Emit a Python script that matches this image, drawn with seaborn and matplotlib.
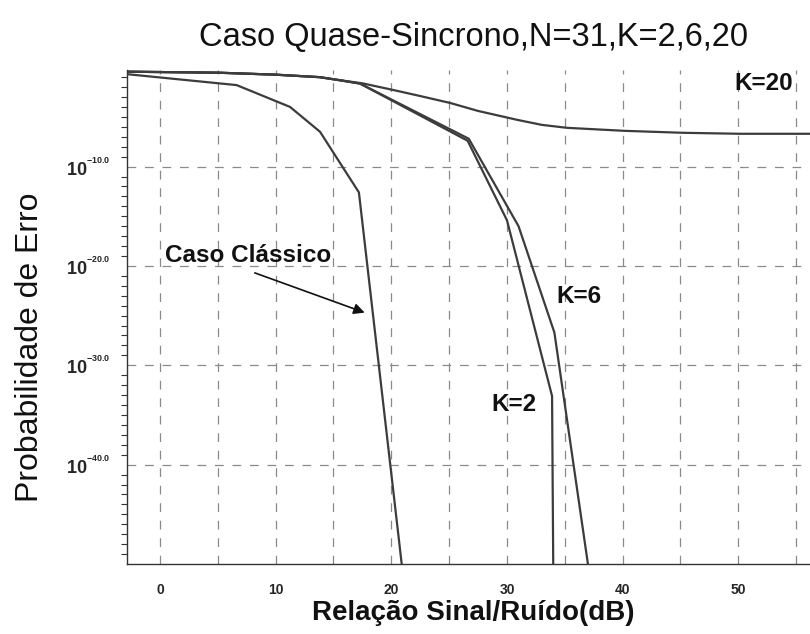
import numpy as np
import pandas as pd
import matplotlib
matplotlib.use("Agg")
import matplotlib.pyplot as plt
from matplotlib.ticker import FixedLocator, FixedFormatter, NullFormatter
import seaborn as sns

# ---- data (SNR in dB, log10 of error probability) ----
snr_classic = [-2.85, 6.63, 11.25, 13.84, 17.2, 20.9]
log_classic = [-0.7, -1.8, -4.0, -6.5, -12.6, -50.0]

snr_k2 = [-2.85, 5.0, 10.0, 13.8, 15.5, 17.3, 26.6, 30.0, 33.9, 34.0]
log_k2 = [-0.45, -0.55, -0.75, -1.0, -1.3, -1.65, -7.4, -15.4, -33.1, -50.0]

snr_k6 = [-2.85, 5.0, 10.0, 13.8, 15.5, 17.3, 26.7, 31.0, 34.1, 37.0]
log_k6 = [-0.45, -0.55, -0.75, -1.0, -1.3, -1.65, -7.2, -16.0, -26.7, -50.0]

snr_k20 = [-2.85, 5.0, 10.0, 13.8, 15.5, 17.5, 20.2, 22.5, 25.1, 27.5, 30.9,
           33.0, 35.2, 40.1, 45.2, 50.2, 56.2]
log_k20 = [-0.45, -0.55, -0.75, -1.0, -1.3, -1.62, -2.3, -2.9, -3.6, -4.4, -5.3,
           -5.8, -6.1, -6.4, -6.6, -6.7, -6.7]

x_ticks = [0, 10, 20, 30, 40, 50]
x_tick_labels = ["0", "10", "20", "30", "40", "50"]
y_major_exp = [-40, -30, -20, -10]
y_tick_labels = [r"$\mathbf{10}^{{}^{\mathbf{-40.0}}}$",
                 r"$\mathbf{10}^{{}^{\mathbf{-30.0}}}$",
                 r"$\mathbf{10}^{{}^{\mathbf{-20.0}}}$",
                 r"$\mathbf{10}^{{}^{\mathbf{-10.0}}}$"]

title = "Caso Quase-Sincrono,N=31,K=2,6,20"
xlabel = "Relação Sinal/Ruído(dB)"
ylabel = "Probabilidade de Erro"

# ---- build long table ----
frames = []
for name, xs, ls in [("classico", snr_classic, log_classic),
                     ("K=2", snr_k2, log_k2),
                     ("K=6", snr_k6, log_k6),
                     ("K=20", snr_k20, log_k20)]:
    frames.append(pd.DataFrame({"snr": xs,
                                "pe": [10.0 ** v for v in ls],
                                "serie": name,
                                "ordem": range(len(xs))}))
df = pd.concat(frames, ignore_index=True)

sns.set_style("white")
plt.rcParams["font.family"] = ["Liberation Sans", "DejaVu Sans"]
plt.rcParams["mathtext.fontset"] = "custom"
plt.rcParams["mathtext.rm"] = "Liberation Sans"
plt.rcParams["mathtext.bf"] = "Liberation Sans:bold"
plt.rcParams["mathtext.it"] = "Liberation Sans:italic"

fig = plt.figure(figsize=(8.10, 6.34), dpi=100)
ax = fig.add_axes([127 / 810, 70 / 634, (810 - 127) / 810, (564 - 70) / 634])

line_color = "#3c3c3c"
sns.lineplot(data=df, x="snr", y="pe", hue="serie", units="serie",
             estimator=None, sort=False, legend=False,
             palette={"classico": line_color, "K=2": line_color,
                      "K=6": line_color, "K=20": line_color},
             linewidth=1.6, ax=ax)

ax.set_yscale("log")
ax.set_xlim(-2.85, 56.2)
ax.set_ylim(1e-50, 10 ** -0.28)

# grid
grid_kw = dict(color="#8a8a8a", linewidth=0.9, linestyle=(0, (7, 7)), zorder=0)
for gx in np.arange(0, 60, 5):
    ax.axvline(gx, **grid_kw)
for ge in y_major_exp:
    ax.axhline(10.0 ** ge, **grid_kw)

# ticks
ax.xaxis.set_major_locator(FixedLocator(list(np.arange(0, 60, 5))))
ax.xaxis.set_major_formatter(FixedFormatter(
    [x_tick_labels[x_ticks.index(t)] if t in x_ticks else "" for t in range(0, 60, 5)]))
ax.yaxis.set_major_locator(FixedLocator([10.0 ** e for e in y_major_exp]))
ax.yaxis.set_major_formatter(FixedFormatter(y_tick_labels))
ax.yaxis.set_minor_locator(FixedLocator([10.0 ** -k for k in range(1, 50) if k % 10 != 0]))
ax.yaxis.set_minor_formatter(NullFormatter())
ax.tick_params(axis="x", which="major", direction="inout", length=9, width=1,
               color="#333333", labelsize=10, pad=9)
ax.tick_params(axis="y", which="major", direction="inout", length=10, width=1,
               color="#333333", labelsize=13, pad=7)
ax.tick_params(axis="y", which="minor", direction="out", length=4, width=0.8,
               color="#333333", left=True)
for lab in ax.get_xticklabels():
    lab.set_fontweight("bold")

for s in ["top", "right"]:
    ax.spines[s].set_visible(False)
for s in ["left", "bottom"]:
    ax.spines[s].set_color("#333333")
    ax.spines[s].set_linewidth(1.0)

ax.set_xlabel("")
ax.set_ylabel("")

# annotations
ax.text(0.43, 10 ** -18.9, "Caso Clássico", fontsize=17.5, fontweight="bold",
        ha="left", va="center", color="#111111")
ax.annotate("", xy=(17.7, 10 ** -24.7), xytext=(8.2, 10 ** -20.7),
            arrowprops=dict(arrowstyle="-|>", color="#111111", lw=1.2,
                            mutation_scale=16, shrinkA=0, shrinkB=0))
ax.text(52.2, 10 ** -1.6, "K=20", fontsize=17.5, fontweight="bold",
        ha="center", va="center", color="#111111")
ax.text(36.2, 10 ** -23.1, "K=6", fontsize=17.5, fontweight="bold",
        ha="center", va="center", color="#111111")
ax.text(30.6, 10 ** -33.95, "K=2", fontsize=17.5, fontweight="bold",
        ha="center", va="center", color="#111111")

fig.text(474 / 810, 1 - 37 / 634, title, fontsize=23.5, ha="center", va="center",
         color="#111111")
fig.text(473 / 810, 1 - 613 / 634, xlabel, fontsize=20, fontweight="bold",
         ha="center", va="center", color="#111111")
fig.text(30 / 810, 1 - 347 / 634, ylabel, fontsize=23, rotation=90,
         ha="center", va="center", color="#111111")

fig.savefig("out.png", dpi=100)
